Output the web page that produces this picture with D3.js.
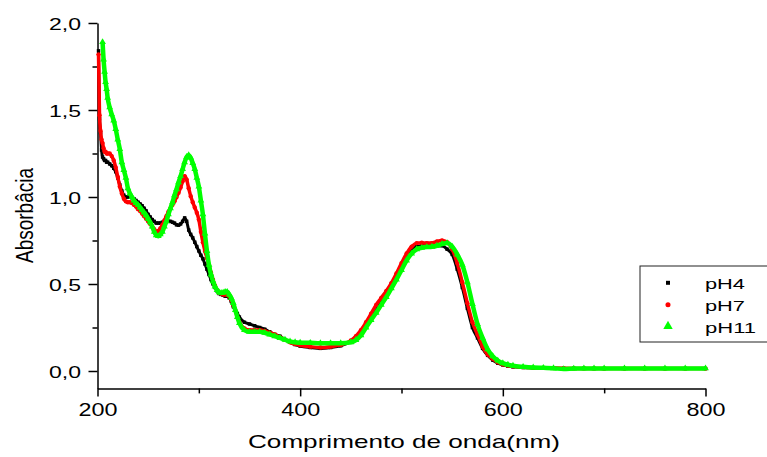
<!DOCTYPE html>
<html>
<head>
<meta charset="utf-8">
<script src="https://cdn.jsdelivr.net/npm/d3@7"></script>
<style>
  body { margin: 0; background: #fff; }
  svg { display: block; font-family: "Liberation Sans", Arial, sans-serif; }
</style>
</head>
<body>
<div id="chart"></div>
<script>
// 1. DATA
const wavelengths = [
  201, 202, 203, 204, 205, 206, 207, 208, 209, 210,
  212, 214, 216, 218, 220, 222, 224, 226, 228, 230,
  232, 234, 236, 238, 240, 242, 244, 246, 248, 250,
  252, 254, 256, 258, 260, 262, 264, 266, 268, 270,
  272, 274, 276, 278, 280, 282, 284, 286, 288, 290,
  292, 294, 296, 298, 300, 302, 304, 306, 308, 310,
  312, 314, 316, 318, 320, 322, 324, 326, 328, 330,
  332, 334, 336, 338, 340, 345, 350, 355, 360, 365,
  370, 375, 380, 385, 390, 395, 400, 410, 420, 430,
  440, 450, 455, 460, 465, 470, 475, 480, 485, 490,
  495, 500, 505, 510, 515, 520, 525, 530, 535, 540,
  545, 550, 555, 560, 565, 570, 575, 580, 585, 590,
  595, 600, 605, 610, 620, 630, 640, 650, 660, 670,
  680, 690, 700, 720, 740, 760, 780, 800
];

const pH4 = [
  1.84, 1.45, 1.37, 1.27, 1.23, 1.22, 1.21, 1.21, 1.20, 1.20,
  1.19, 1.18, 1.165, 1.145, 1.11, 1.07, 1.035, 1.01, 1.0, 1.0,
  1.0, 0.995, 0.99, 0.98, 0.97, 0.96, 0.95, 0.935, 0.92, 0.90,
  0.885, 0.87, 0.86, 0.85, 0.85, 0.85, 0.855, 0.86, 0.86, 0.86,
  0.86, 0.855, 0.85, 0.84, 0.838, 0.845, 0.86, 0.88, 0.86, 0.81,
  0.785, 0.765, 0.74, 0.715, 0.69, 0.665, 0.645, 0.615, 0.585, 0.555,
  0.525, 0.50, 0.48, 0.46, 0.445, 0.44, 0.435, 0.43, 0.43, 0.42,
  0.40, 0.37, 0.35, 0.33, 0.31, 0.28, 0.27, 0.26, 0.25, 0.24,
  0.225, 0.21, 0.20, 0.18, 0.165, 0.152, 0.143, 0.135, 0.13, 0.135,
  0.145, 0.17, 0.19, 0.225, 0.265, 0.315, 0.365, 0.415, 0.455, 0.50,
  0.55, 0.605, 0.655, 0.695, 0.715, 0.72, 0.72, 0.72, 0.72, 0.72,
  0.70, 0.67, 0.585, 0.48, 0.36, 0.25, 0.19, 0.13, 0.09, 0.063,
  0.045, 0.035, 0.028, 0.024, 0.02, 0.018, 0.017, 0.016, 0.015, 0.015,
  0.015, 0.014, 0.014, 0.014, 0.014, 0.014, 0.014, 0.014
];

const pH7 = [
  1.82, 1.47, 1.38, 1.33, 1.31, 1.28, 1.26, 1.26, 1.25, 1.25,
  1.25, 1.235, 1.21, 1.17, 1.115, 1.06, 1.02, 0.99, 0.975, 0.97,
  0.97, 0.965, 0.955, 0.945, 0.93, 0.92, 0.905, 0.89, 0.875, 0.86,
  0.845, 0.83, 0.815, 0.80, 0.805, 0.82, 0.84, 0.865, 0.89, 0.915,
  0.935, 0.955, 0.975, 1.0, 1.025, 1.055, 1.09, 1.12, 1.10, 1.05,
  1.005, 0.97, 0.94, 0.91, 0.87, 0.80, 0.74, 0.69, 0.65, 0.61,
  0.565, 0.525, 0.49, 0.465, 0.45, 0.445, 0.44, 0.44, 0.44, 0.43,
  0.41, 0.38, 0.35, 0.31, 0.28, 0.245, 0.235, 0.235, 0.235, 0.23,
  0.22, 0.21, 0.195, 0.18, 0.165, 0.155, 0.148, 0.14, 0.135, 0.14,
  0.15, 0.175, 0.20, 0.235, 0.28, 0.33, 0.38, 0.42, 0.46, 0.505,
  0.56, 0.62, 0.675, 0.715, 0.735, 0.737, 0.735, 0.735, 0.745, 0.75,
  0.74, 0.70, 0.62, 0.51, 0.39, 0.28, 0.21, 0.14, 0.095, 0.07,
  0.05, 0.038, 0.031, 0.027, 0.022, 0.019, 0.018, 0.017, 0.016, 0.015,
  0.015, 0.015, 0.014, 0.014, 0.014, 0.014, 0.014, 0.014
];

const pH11 = [
  null, null, null, null, 1.89, 1.79, 1.72, 1.66, 1.62, 1.57,
  1.515, 1.475, 1.44, 1.39, 1.33, 1.275, 1.20, 1.155, 1.11, 1.05,
  1.02, 1.0, 0.98, 0.965, 0.955, 0.94, 0.925, 0.91, 0.895, 0.875,
  0.855, 0.83, 0.80, 0.78, 0.775, 0.785, 0.80, 0.83, 0.86, 0.90,
  0.935, 0.97, 1.01, 1.045, 1.085, 1.12, 1.16, 1.20, 1.23, 1.24,
  1.225, 1.195, 1.16, 1.11, 1.06, 0.98, 0.90, 0.79, 0.69, 0.61,
  0.555, 0.515, 0.485, 0.465, 0.452, 0.448, 0.45, 0.455, 0.455, 0.44,
  0.42, 0.39, 0.35, 0.31, 0.275, 0.235, 0.225, 0.225, 0.225, 0.22,
  0.21, 0.20, 0.19, 0.18, 0.17, 0.165, 0.163, 0.162, 0.16, 0.16,
  0.16, 0.165, 0.178, 0.205, 0.25, 0.293, 0.335, 0.38, 0.425, 0.475,
  0.525, 0.58, 0.635, 0.675, 0.70, 0.708, 0.712, 0.714, 0.72, 0.73,
  0.735, 0.715, 0.67, 0.61, 0.51, 0.385, 0.27, 0.19, 0.125, 0.085,
  0.06, 0.045, 0.036, 0.03, 0.024, 0.02, 0.018, 0.016, 0.011, 0.014,
  0.015, 0.015, 0.015, 0.015, 0.015, 0.015, 0.015, 0.015
];

const xTicks = [200, 400, 600, 800];
const xMinorTicks = [300, 500, 700];
const yTicks = [0, 0.5, 1.0, 1.5, 2.0];
const yMinorTicks = [0.25, 0.75, 1.25, 1.75];

// 2. SETUP
const width = 767;
const height = 457;

const svg = d3.select("#chart")
    .append("svg")
    .attr("width", width)
    .attr("height", height);

const x = d3.scaleLinear().domain([200, 800]).range([97.5, 705.5]);
const y = d3.scaleLinear().domain([-0.1, 2.0]).range([388.4, 23]);

const fmt = v => d3.format(".1f")(v).replace(".", ",");

// --- AXES ---
const yAxis = svg.append("g")
    .attr("transform", `translate(${x(200)},0)`)
    .call(d3.axisLeft(y).tickValues(yTicks).tickSize(9).tickSizeOuter(0).tickFormat(fmt));
yAxis.selectAll("text")
    .attr("x", -16.5)
    .attr("dy", 6)
    .attr("font-size", 17)
    .attr("fill", "#000")
    .attr("textLength", 32)
    .attr("lengthAdjust", "spacingAndGlyphs");

svg.append("g")
    .attr("transform", `translate(${x(200)},0)`)
    .call(d3.axisLeft(y).tickValues(yMinorTicks).tickSize(5).tickSizeOuter(0).tickFormat(""))
    .call(g => g.select(".domain").remove());

const xAxis = svg.append("g")
    .attr("transform", `translate(0,${y(-0.1)})`)
    .call(d3.axisBottom(x).tickValues(xTicks).tickSize(8).tickSizeOuter(0));
xAxis.selectAll("text")
    .attr("y", 27.3)
    .attr("dy", 0)
    .attr("font-size", 19)
    .attr("fill", "#000")
    .attr("textLength", 39)
    .attr("lengthAdjust", "spacingAndGlyphs");

svg.append("g")
    .attr("transform", `translate(0,${y(-0.1)})`)
    .call(d3.axisBottom(x).tickValues(xMinorTicks).tickSize(5).tickSizeOuter(0).tickFormat(""))
    .call(g => g.select(".domain").remove());

svg.selectAll(".domain, .tick line")
    .attr("stroke", "#000")
    .attr("stroke-width", 1.5);

// Axis titles
svg.append("text")
    .attr("x", 404)
    .attr("y", 447.6)
    .attr("text-anchor", "middle")
    .attr("font-size", 19)
    .attr("textLength", 312)
    .attr("lengthAdjust", "spacingAndGlyphs")
    .text("Comprimento de onda(nm)");

svg.append("text")
    .attr("transform", "translate(33,215.5) scale(1.3,1) rotate(-90)")
    .attr("text-anchor", "middle")
    .attr("font-size", 19)
    .text("Absorbâcia");

// --- SERIES ---
const series = [
    { name: "pH4", values: pH4, color: "#000000", shape: d3.symbolSquare, size: 12, legendSize: 16, lw: 3 },
    { name: "pH7", values: pH7, color: "#ff0000", shape: d3.symbolCircle, size: 15, legendSize: 20, lw: 3.5 },
    { name: "pH11", values: pH11, color: "#00ff00", shape: d3.symbolTriangle, size: 20, legendSize: 38, lw: 4.5 }
];

series.forEach(s => {
    const pts = wavelengths.map((w, i) => ({ w, v: s.values[i] })).filter(d => d.v != null);
    const line = d3.line().x(d => x(d.w)).y(d => y(d.v)).curve(d3.curveMonotoneX);

    svg.append("path")
        .datum(pts)
        .attr("d", line)
        .attr("fill", "none")
        .attr("stroke", s.color)
        .attr("stroke-width", s.lw)
        .attr("stroke-linejoin", "round");

    svg.append("g")
        .selectAll("path")
        .data(pts)
        .join("path")
        .attr("transform", d => `translate(${x(d.w)},${y(d.v)})`)
        .attr("d", d3.symbol().type(s.shape).size(s.size))
        .attr("fill", s.color);
});

// --- LEGEND ---
const legend = svg.append("g");
legend.append("rect")
    .attr("x", 640)
    .attr("y", 266)
    .attr("width", 140)
    .attr("height", 76)
    .attr("fill", "#fff")
    .attr("stroke", "#222")
    .attr("stroke-width", 1);

const rowBase = [289.3, 311.3, 332.7];
const textLen = [40, 40, 51];
series.forEach((s, i) => {
    legend.append("path")
        .attr("transform", `translate(668,${rowBase[i] - 6.5})`)
        .attr("d", d3.symbol().type(s.shape).size(s.legendSize))
        .attr("fill", s.color);
    legend.append("text")
        .attr("x", 705)
        .attr("y", rowBase[i])
        .attr("font-size", 15)
        .attr("textLength", textLen[i])
        .attr("lengthAdjust", "spacingAndGlyphs")
        .text(s.name);
});
</script>
</body>
</html>
